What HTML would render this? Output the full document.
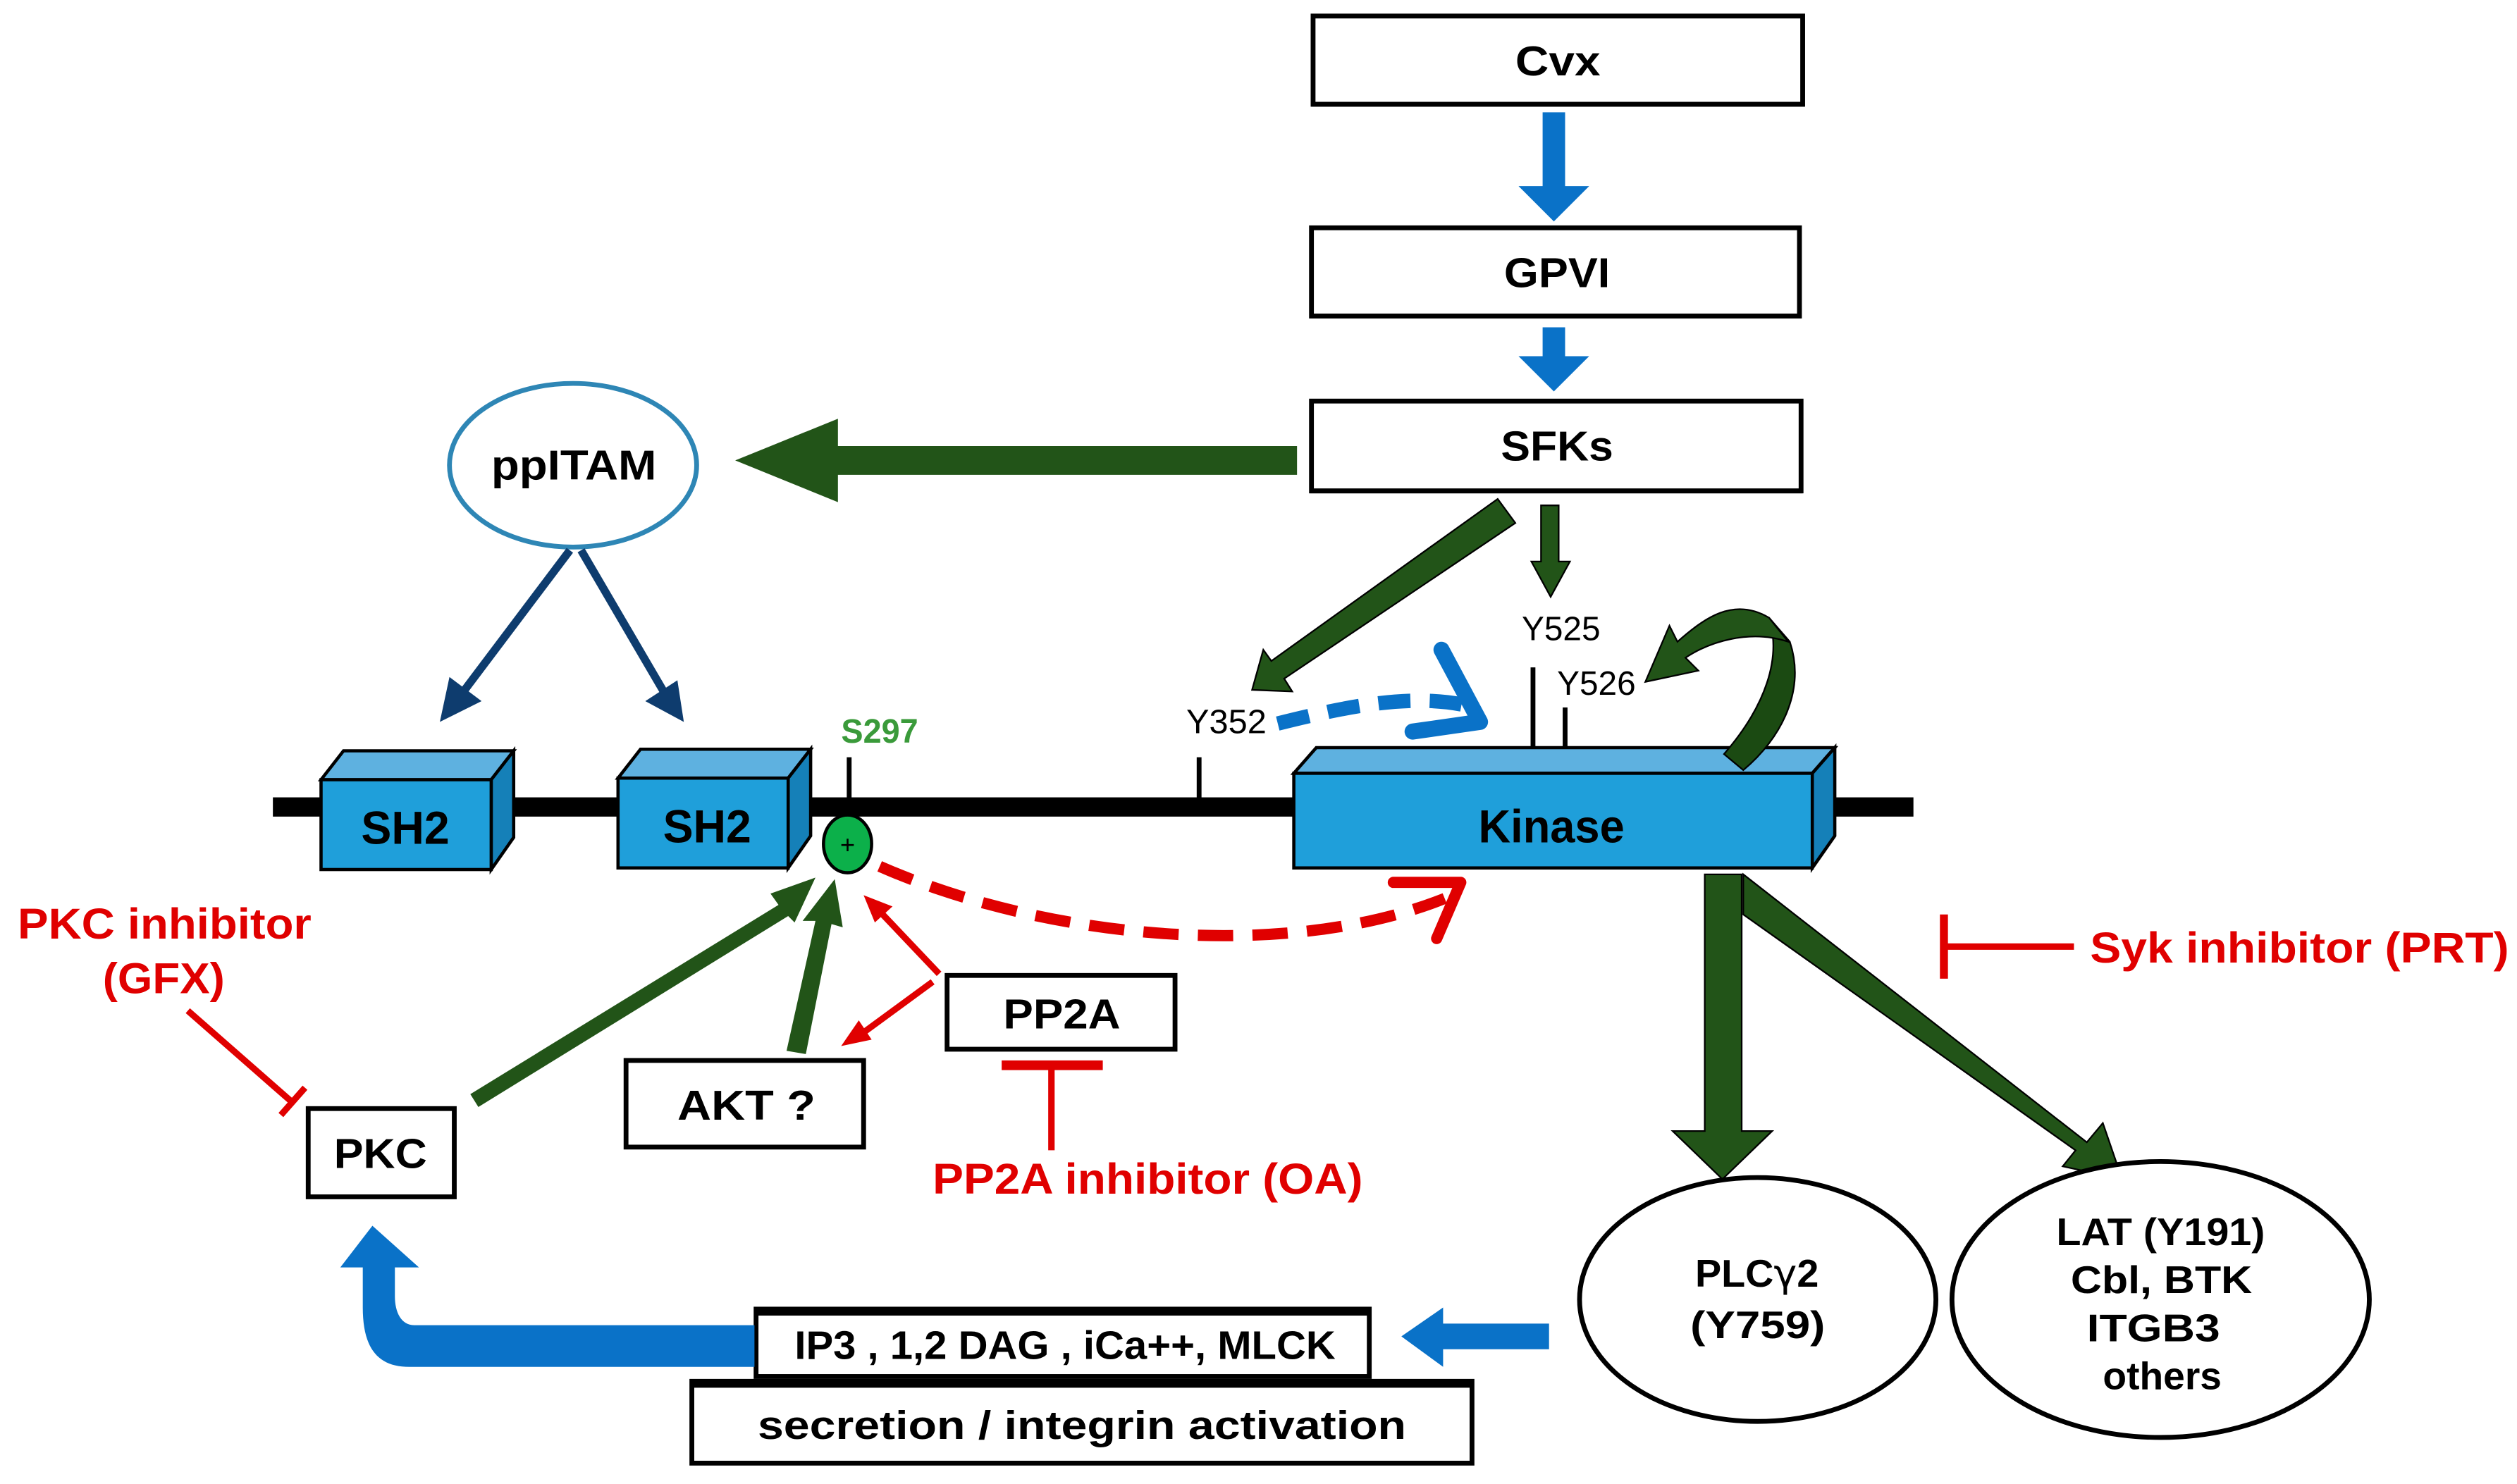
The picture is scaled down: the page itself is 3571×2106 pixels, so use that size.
<!DOCTYPE html>
<html><head><style>html,body{margin:0;padding:0;background:#fff}svg{display:block}</style></head>
<body>
<svg width="3571" height="2106" viewBox="0 0 1568 925" preserveAspectRatio="none" xmlns="http://www.w3.org/2000/svg" font-family="'Liberation Sans', sans-serif" font-weight="bold">
<!-- top boxes -->
<g fill="#fff" stroke="#000" stroke-width="3">
<rect x="818" y="10" width="305" height="55"/>
<rect x="817" y="142" width="304" height="55"/>
<rect x="817" y="250" width="305" height="56"/>
</g>
<g stroke="#000" stroke-width="3"><line x1="817" y1="65" x2="1124" y2="65"/><line x1="816" y1="197" x2="1122" y2="197"/><line x1="816" y1="306" x2="1123" y2="306"/></g>
<g font-size="26" lengthAdjust="spacingAndGlyphs">
<text x="944" y="47" textLength="53" lengthAdjust="spacingAndGlyphs">Cvx</text>
<text x="937" y="179" textLength="66" lengthAdjust="spacingAndGlyphs">GPVI</text>
<text x="935" y="287" textLength="70" lengthAdjust="spacingAndGlyphs">SFKs</text>
</g>
<!-- blue arrows top -->
<path d="M961,70 H975 V116 H990 L968,138 L946,116 H961 Z" fill="#0a72c8"/>
<path d="M961,204 H975 V222 H990 L968,244 L946,222 H961 Z" fill="#0a72c8"/>
<!-- green arrow to ppITAM -->
<path d="M808,278 V296 H522 V313 L458,287 L522,261 V278 Z" fill="#225418"/>
<!-- ppITAM -->
<ellipse cx="357" cy="290" rx="77" ry="51" fill="#fff" stroke="#2e86b5" stroke-width="3"/>
<text x="306" y="299" font-size="26" textLength="103" lengthAdjust="spacingAndGlyphs">ppITAM</text>
<!-- dark blue arrows -->
<g stroke="#0e3c6e" stroke-width="5"><line x1="355" y1="343" x2="288" y2="432"/><line x1="362" y1="343" x2="414" y2="432"/></g>
<path d="M274,450 L280,422 L300,437 Z" fill="#0e3c6e"/>
<path d="M426,450 L402,437 L422,424 Z" fill="#0e3c6e"/>
<!-- backbone -->
<rect x="170" y="497" width="1022" height="12" fill="#000"/>
<!-- ticks -->
<g stroke="#000" stroke-width="3"><line x1="529" y1="472" x2="529" y2="500"/><line x1="747" y1="472" x2="747" y2="500"/><line x1="955" y1="416" x2="955" y2="467"/><line x1="975" y1="441" x2="975" y2="467"/></g>
<!-- boxes 3D -->
<g stroke="#000" stroke-width="2">
<path d="M200,486 L214,468 L320,468 L306,486 Z" fill="#5eb1e0"/>
<path d="M306,486 L320,468 L320,522 L306,542 Z" fill="#1580b8"/>
<rect x="200" y="486" width="106" height="56" fill="#1f9fda"/>
<path d="M385,485 L399,467 L505,467 L491,485 Z" fill="#5eb1e0"/>
<path d="M491,485 L505,467 L505,521 L491,541 Z" fill="#1580b8"/>
<rect x="385" y="485" width="106" height="56" fill="#1f9fda"/>
<path d="M806,482 L820,466 L1143,466 L1129,482 Z" fill="#5eb1e0"/>
<path d="M1129,482 L1143,466 L1143,521 L1129,541 Z" fill="#1580b8"/>
<rect x="806" y="482" width="323" height="59" fill="#1f9fda"/>
</g>
<g font-size="29">
<text x="225" y="526" textLength="55" lengthAdjust="spacingAndGlyphs">SH2</text>
<text x="413" y="525" textLength="55" lengthAdjust="spacingAndGlyphs">SH2</text>
<text x="921" y="525" textLength="91" lengthAdjust="spacingAndGlyphs">Kinase</text>
</g>
<!-- curved green self arrow -->
<path d="M1074,470 C1100,440 1110,410 1102,385 L1115,400 C1125,430 1110,460 1086,480 Z" fill="#1b4a12" stroke="#000" stroke-width="1"/>
<path d="M1102,385 C1080,372 1062,385 1045,400 L1040,390 L1025,425 L1058,418 L1050,410 C1065,400 1090,392 1114,400 Z" fill="#225418" stroke="#000" stroke-width="1"/>
<!-- labels -->
<text x="524" y="463" font-size="21" fill="#3a9a3a" textLength="48" lengthAdjust="spacingAndGlyphs">S297</text>
<g font-size="21" font-weight="normal" fill="#000">
<text x="739" y="457" textLength="50" lengthAdjust="spacingAndGlyphs">Y352</text>
<text x="948" y="399" textLength="49" lengthAdjust="spacingAndGlyphs">Y525</text>
<text x="970" y="433" textLength="49" lengthAdjust="spacingAndGlyphs">Y526</text>
</g>
<!-- green arrows from SFKs -->
<path d="M933,311 L944,326 L800,423 L805,431 L780,430 L787,405 L792,412 Z" fill="#225418" stroke="#000" stroke-width="1"/>
<path d="M960,315 H971 V350 H978 L966,372 L954,350 H960 Z" fill="#225418" stroke="#000" stroke-width="1"/>
<!-- blue dashed -->
<path d="M796,451 C840,440 880,432 915,440" fill="none" stroke="#0a72c8" stroke-width="9" stroke-dasharray="20,12"/>
<path d="M898,405 L922,450 L880,456" fill="none" stroke="#0a72c8" stroke-width="10" stroke-linecap="round" stroke-linejoin="round"/>
<!-- green circle -->
<ellipse cx="528" cy="526" rx="15" ry="18" fill="#0cb04a" stroke="#000" stroke-width="2"/>
<text x="528" y="532" font-size="16" text-anchor="middle" font-weight="normal">+</text>
<!-- red dashed -->
<path d="M548,540 C650,585 800,600 900,560" fill="none" stroke="#e00000" stroke-width="7" stroke-dasharray="22,12"/>
<path d="M868,550 L910,550 L895,585" fill="none" stroke="#e00000" stroke-width="7" stroke-linecap="round" stroke-linejoin="round"/>
<!-- red arrows from PP2A -->
<g stroke="#e00000" stroke-width="4" fill="none"><path d="M585,607 L548,568"/><path d="M581,612 L536,645"/></g>
<path d="M538,558 L556,565 L545,575 Z" fill="#e00000"/>
<path d="M524,652 L535,636 L543,648 Z" fill="#e00000"/>
<!-- green arrows to circle -->
<path d="M293,682 L485,564 L480,557 L508,547 L495,575 L491,571 L298,690 Z" fill="#225418"/>
<path d="M490,655 L508,574 L500,574 L520,548 L525,578 L518,576 L502,657 Z" fill="#225418"/>
<!-- boxes small -->
<g fill="#fff" stroke="#000" stroke-width="3">
<rect x="192" y="691" width="91" height="55"/>
<rect x="390" y="661" width="148" height="54"/>
<rect x="590" y="608" width="142" height="46"/>
</g>
<g font-size="26">
<text x="208" y="728" textLength="58" lengthAdjust="spacingAndGlyphs">PKC</text>
<text x="422" y="698" textLength="86" lengthAdjust="spacingAndGlyphs">AKT ?</text>
<text x="625" y="641" textLength="73" lengthAdjust="spacingAndGlyphs">PP2A</text>
</g>
<!-- red inhibitors -->
<g stroke="#e00000" stroke-width="4"><line x1="117" y1="630" x2="182" y2="687"/><line x1="175" y1="695" x2="190" y2="678"/>
<line x1="655" y1="665" x2="655" y2="717"/><line x1="624" y1="664" x2="687" y2="664" stroke-width="6"/>
<line x1="1211" y1="590" x2="1292" y2="590"/><line x1="1211" y1="570" x2="1211" y2="610" stroke-width="5"/></g>
<g fill="#e00000" font-size="27">
<text x="11" y="585" textLength="183" lengthAdjust="spacingAndGlyphs">PKC inhibitor</text>
<text x="64" y="619" textLength="76" lengthAdjust="spacingAndGlyphs">(GFX)</text>
<text x="581" y="744" textLength="268" lengthAdjust="spacingAndGlyphs">PP2A inhibitor (OA)</text>
<text x="1302" y="600" textLength="261" lengthAdjust="spacingAndGlyphs">Syk inhibitor (PRT)</text>
</g>
<!-- kinase down arrows -->
<path d="M1062,545 H1085 V705 H1104 L1073,735 L1042,705 H1062 Z" fill="#225418" stroke="#000" stroke-width="1"/>
<path d="M1086,545 L1300,712 L1310,700 L1322,735 L1285,727 L1293,717 L1086,570 Z" fill="#225418" stroke="#000" stroke-width="1"/>
<!-- ellipses -->
<ellipse cx="1095" cy="810" rx="111" ry="76" fill="#fff" stroke="#000" stroke-width="3"/>
<ellipse cx="1346" cy="810" rx="130" ry="86" fill="#fff" stroke="#000" stroke-width="3"/>
<g font-size="24">
<text x="1056" y="802" textLength="77" lengthAdjust="spacingAndGlyphs">PLC<tspan font-family="'DejaVu Sans', sans-serif" font-weight="normal">γ</tspan>2</text>
<text x="1053" y="834" textLength="84" lengthAdjust="spacingAndGlyphs">(Y759)</text>
<text x="1281" y="776" textLength="130" lengthAdjust="spacingAndGlyphs">LAT (Y191)</text>
<text x="1290" y="806" textLength="113" lengthAdjust="spacingAndGlyphs">Cbl, BTK</text>
<text x="1300" y="836" textLength="83" lengthAdjust="spacingAndGlyphs">ITGB3</text>
<text x="1310" y="866" textLength="74" lengthAdjust="spacingAndGlyphs">others</text>
</g>
<!-- bottom boxes -->
<g fill="#fff" stroke="#000" stroke-width="3">
<rect x="471" y="816" width="382" height="42"/>
<rect x="431" y="861" width="486" height="51"/>
</g>
<g stroke="#000" stroke-width="4"><line x1="470" y1="818" x2="854" y2="818"/><line x1="430" y1="863" x2="918" y2="863"/></g>
<g font-size="25">
<text x="495" y="847" textLength="337" lengthAdjust="spacingAndGlyphs">IP3 , 1,2 DAG , iCa++, MLCK</text>
<text x="472" y="897" textLength="404" lengthAdjust="spacingAndGlyphs">secretion / integrin activation</text>
</g>
<!-- blue arrow left -->
<path d="M965,825 V841 H899 V852 L873,833 L899,815 V825 Z" fill="#0a72c8"/>
<!-- blue curved arrow -->
<path d="M470,826 H258 C250,826 246,818 246,808 V790 H261 L232,764 L212,790 H226 V815 C226,840 235,852 255,852 H470 Z" fill="#0a72c8"/>
</svg>
</body></html>
